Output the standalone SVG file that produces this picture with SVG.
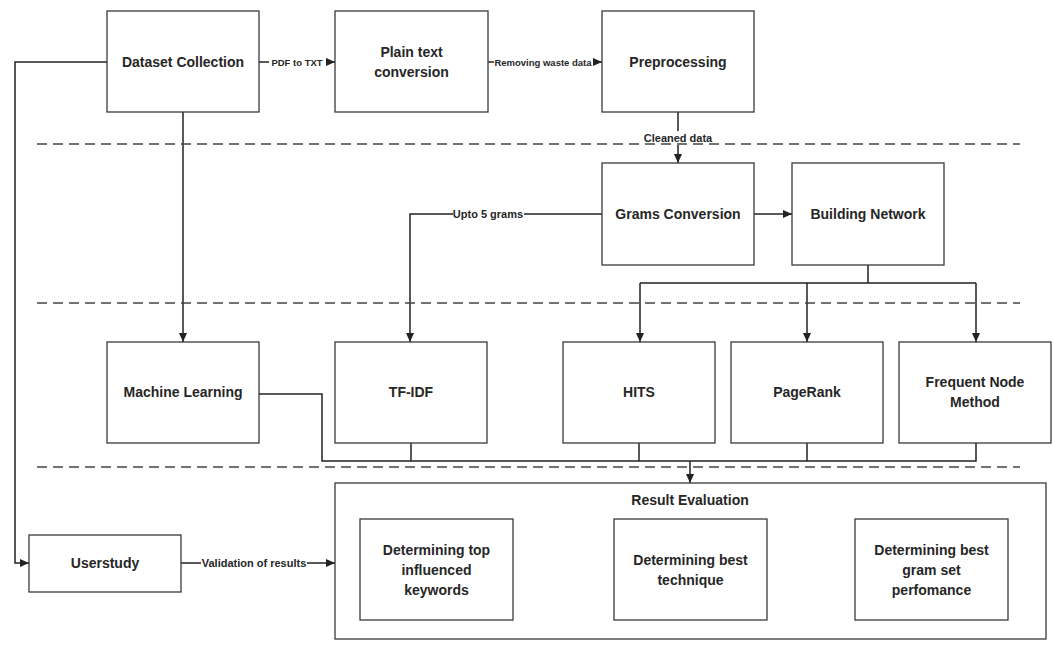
<svg xmlns="http://www.w3.org/2000/svg" width="1053" height="655" viewBox="0 0 1053 655">
<style>
.box{fill:#fff;stroke:#3a3a3a;stroke-width:1.3}
.t{font-family:"Liberation Sans",Arial,sans-serif;font-weight:bold;font-size:14px;fill:#262626;text-anchor:middle;dominant-baseline:central}
.lbl{font-family:"Liberation Sans",Arial,sans-serif;font-weight:bold;font-size:11px;fill:#262626;text-anchor:middle;dominant-baseline:central}
.sm{font-size:9.5px}
.c{fill:none;stroke:#222;stroke-width:1.5}
.dash{fill:none;stroke:#444;stroke-width:1.4;stroke-dasharray:10 6}
.bg{fill:#fff}
</style>
<defs>
<marker id="ah" viewBox="0 0 10 10" refX="10" refY="5" markerWidth="9" markerHeight="8" markerUnits="userSpaceOnUse" orient="auto" preserveAspectRatio="none">
<path d="M0,0 L10,5 L0,10 z" fill="#222"/>
</marker>
</defs>
<rect width="1053" height="655" fill="#fff"/>
<g id="connectors">
<path class="c" d="M259,62 H335" marker-end="url(#ah)"/>
<path class="c" d="M488,62 H602" marker-end="url(#ah)"/>
<path class="c" d="M678,112 V163" marker-end="url(#ah)"/>
<path class="c" d="M754,214 H792" marker-end="url(#ah)"/>
<path class="c" d="M602,214 H410 V342" marker-end="url(#ah)"/>
<path class="c" d="M868,265 V283 M640,283 H976"/>
<path class="c" d="M640,283 V342" marker-end="url(#ah)"/>
<path class="c" d="M807,283 V342" marker-end="url(#ah)"/>
<path class="c" d="M976,283 V342" marker-end="url(#ah)"/>
<path class="c" d="M183,112 V342" marker-end="url(#ah)"/>
<path class="c" d="M107,62 H15 V563 H29" marker-end="url(#ah)"/>
<path class="c" d="M259,394 H322 V461 H976 V443 M411,443 V461 M639,443 V461 M807,443 V461"/>
<path class="c" d="M690,461 V483" marker-end="url(#ah)"/>
<path class="c" d="M181,563 H335" marker-end="url(#ah)"/>
<rect class="bg" x="269" y="56" width="57" height="12"/>
<text class="lbl sm" x="297" y="62">PDF to TXT</text>
<rect class="bg" x="494" y="56" width="99" height="12"/>
<text class="lbl sm" x="543" y="62">Removing waste data</text>
<rect class="bg" x="643" y="131" width="70" height="14"/>
<text class="lbl" x="678" y="138">Cleaned data</text>
<rect class="bg" x="453" y="207" width="71" height="14"/>
<text class="lbl" x="488" y="214">Upto 5 grams</text>
<rect class="bg" x="201" y="556" width="106" height="14"/>
<text class="lbl" x="254" y="563">Validation of results</text>
</g>
<g id="separators">
<line class="dash" x1="37" y1="144" x2="1020" y2="144"/>
<line class="dash" x1="37" y1="303" x2="1020" y2="303"/>
<line class="dash" x1="37" y1="467" x2="1020" y2="467"/>
</g>
<g id="dataset"><rect class="box" x="107" y="11" width="152" height="101"/><text class="t" x="183" y="62">Dataset Collection</text></g>
<g id="plaintext"><rect class="box" x="335" y="11" width="153" height="101"/><text class="t" x="411.5" y="52">Plain text</text><text class="t" x="411.5" y="72">conversion</text></g>
<g id="preprocessing"><rect class="box" x="602" y="11" width="152" height="101"/><text class="t" x="678" y="62">Preprocessing</text></g>
<g id="grams"><rect class="box" x="602" y="163" width="152" height="102"/><text class="t" x="678" y="214">Grams Conversion</text></g>
<g id="network"><rect class="box" x="792" y="163" width="152" height="102"/><text class="t" x="868" y="214">Building Network</text></g>
<g id="ml"><rect class="box" x="107" y="342" width="152" height="101"/><text class="t" x="183" y="392">Machine Learning</text></g>
<g id="tfidf"><rect class="box" x="335" y="342" width="152" height="101"/><text class="t" x="411" y="392">TF-IDF</text></g>
<g id="hits"><rect class="box" x="563" y="342" width="152" height="101"/><text class="t" x="639" y="392">HITS</text></g>
<g id="pagerank"><rect class="box" x="731" y="342" width="152" height="101"/><text class="t" x="807" y="392">PageRank</text></g>
<g id="fnm"><rect class="box" x="899" y="342" width="152" height="101"/><text class="t" x="975" y="382">Frequent Node</text><text class="t" x="975" y="402">Method</text></g>
<g id="result"><rect class="box" x="335" y="483" width="711" height="156"/><text class="t" x="690" y="500">Result Evaluation</text>
<g id="topkw"><rect class="box" x="360" y="519" width="153" height="101"/><text class="t" x="436.5" y="550">Determining top</text><text class="t" x="436.5" y="570">influenced</text><text class="t" x="436.5" y="590">keywords</text></g>
<g id="besttech"><rect class="box" x="614" y="519" width="153" height="101"/><text class="t" x="690.5" y="560">Determining best</text><text class="t" x="690.5" y="580">technique</text></g>
<g id="bestgram"><rect class="box" x="855" y="519" width="153" height="101"/><text class="t" x="931.5" y="550">Determining best</text><text class="t" x="931.5" y="570">gram set</text><text class="t" x="931.5" y="590">perfomance</text></g>
</g>
<g id="userstudy"><rect class="box" x="29" y="535" width="152" height="57"/><text class="t" x="105" y="563">Userstudy</text></g>
</svg>
